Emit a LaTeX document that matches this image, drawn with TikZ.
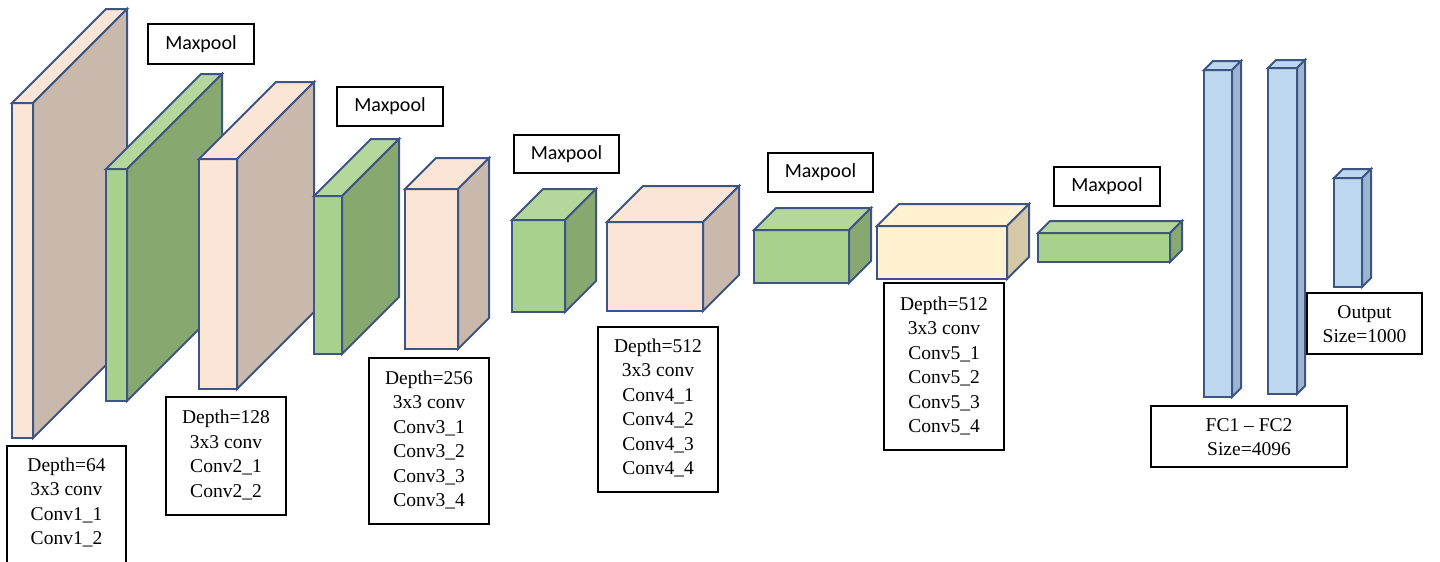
\documentclass[tikz,border=0pt]{standalone}
\usepackage{fontspec}
\setmainfont{Liberation Serif}
\newfontfamily\mpfont{Carlito}
\definecolor{edgeblue}{HTML}{3E5583}
\definecolor{peachF}{HTML}{FBE5D6}
\definecolor{peachS}{HTML}{C9B8AC}
\definecolor{greenF}{HTML}{A9D18E}
\definecolor{greenT}{HTML}{B4D89C}
\definecolor{greenS}{HTML}{87A96F}
\definecolor{yellowF}{HTML}{FFF2D0}
\definecolor{yellowS}{HTML}{D5C8A6}
\definecolor{blueF}{HTML}{BDD7EE}
\definecolor{blueS}{HTML}{9DB5D0}
\tikzset{
  cubeedge/.style={draw=edgeblue, line width=2pt, line join=miter},
  labeltext/.style={align=center, font=\fontsize{19.5}{24.5}\selectfont, inner sep=0pt},
  labelbox/.style={draw=black, line width=1.2pt},
  poolbox/.style={draw=black, line width=1.2pt, font=\mpfont\fontsize{20}{24}\selectfont, inner sep=0pt}
}
% x y w h d front top side
\newcommand\vggcube[8]{%
  \filldraw[cubeedge, fill=#6] (#1,#2) rectangle ++(#3,#4);
  \filldraw[cubeedge, fill=#7] (#1,#2) -- ++(#5,-#5) -- ++(#3,0) -- ++(-#5,#5) -- cycle;
  \filldraw[cubeedge, fill=#8] ({#1+#3},#2) -- ++(#5,-#5) -- ++(0,#4) -- ++(-#5,#5) -- cycle;
}
\begin{document}
\begin{tikzpicture}[x=1pt, y=-1pt]
\useasboundingbox (0,0) rectangle (1440,562);
\fill[white] (0,0) rectangle (1440,562);

% layers
\vggcube{12}{103}{21}{335}{94}{peachF}{peachF}{peachS}
\vggcube{106}{169}{21}{232}{95}{greenF}{greenT}{greenS}
\vggcube{199}{159}{38}{230}{77}{peachF}{peachF}{peachS}
\vggcube{314}{196}{28}{158}{57}{greenF}{greenT}{greenS}
\vggcube{405}{189}{53}{160}{31}{peachF}{peachF}{peachS}
\vggcube{512}{220}{53}{92}{31}{greenF}{greenT}{greenS}
\vggcube{607}{222}{96}{89}{36}{peachF}{peachF}{peachS}
\vggcube{754}{230}{95}{53}{22}{greenF}{greenT}{greenS}
\vggcube{877}{226}{130}{53}{22}{yellowF}{yellowF}{yellowS}
\vggcube{1038}{233}{132}{29}{12}{greenF}{greenT}{greenS}
\vggcube{1204}{70}{28}{327}{9}{blueF}{blueF}{blueS}
\vggcube{1268}{68}{29}{326}{8}{blueF}{blueF}{blueS}
\vggcube{1334}{178}{28}{109}{9}{blueF}{blueF}{blueS}

% maxpool labels
\node[poolbox, minimum width=106pt, minimum height=40pt] (mp1) at (201,44) {Maxpool};
\node[poolbox, minimum width=106pt, minimum height=39pt] (mp2) at (390,106.5) {Maxpool};
\node[poolbox, minimum width=105pt, minimum height=38pt] (mp3) at (566.5,154) {Maxpool};
\node[poolbox, minimum width=105pt, minimum height=39pt] (mp4) at (820.5,172.5) {Maxpool};
\node[poolbox, minimum width=106pt, minimum height=39pt] (mp5) at (1107,186.5) {Maxpool};

% layer description boxes
\draw[labelbox] (7,446) rectangle (126,580);
\node[labeltext] (d1) at (66.5,502.5) {Depth=64\\3x3 conv\\Conv1\_1\\Conv1\_2};

\draw[labelbox] (166,397) rectangle (286,515);
\node[labeltext] (d2) at (226,455) {Depth=128\\3x3 conv\\Conv2\_1\\Conv2\_2};

\draw[labelbox] (369,358) rectangle (489,524);
\node[labeltext] (d3) at (429,440) {Depth=256\\3x3 conv\\Conv3\_1\\Conv3\_2\\Conv3\_3\\Conv3\_4};

\draw[labelbox] (598,327) rectangle (718,492);
\node[labeltext] (d4) at (658,408) {Depth=512\\3x3 conv\\Conv4\_1\\Conv4\_2\\Conv4\_3\\Conv4\_4};

\draw[labelbox] (884,283) rectangle (1004,450);
\node[labeltext] (d5) at (944,366) {Depth=512\\3x3 conv\\Conv5\_1\\Conv5\_2\\Conv5\_3\\Conv5\_4};

\draw[labelbox, fill=white] (1151,406) rectangle (1347,467);
\node[labeltext] (fc) at (1249,437) {FC1 -- FC2\\Size=4096};

\draw[labelbox, fill=white] (1307,293) rectangle (1422,354);
\node[labeltext] (out) at (1364.5,324) {Output\\Size=1000};
\end{tikzpicture}
\end{document}
